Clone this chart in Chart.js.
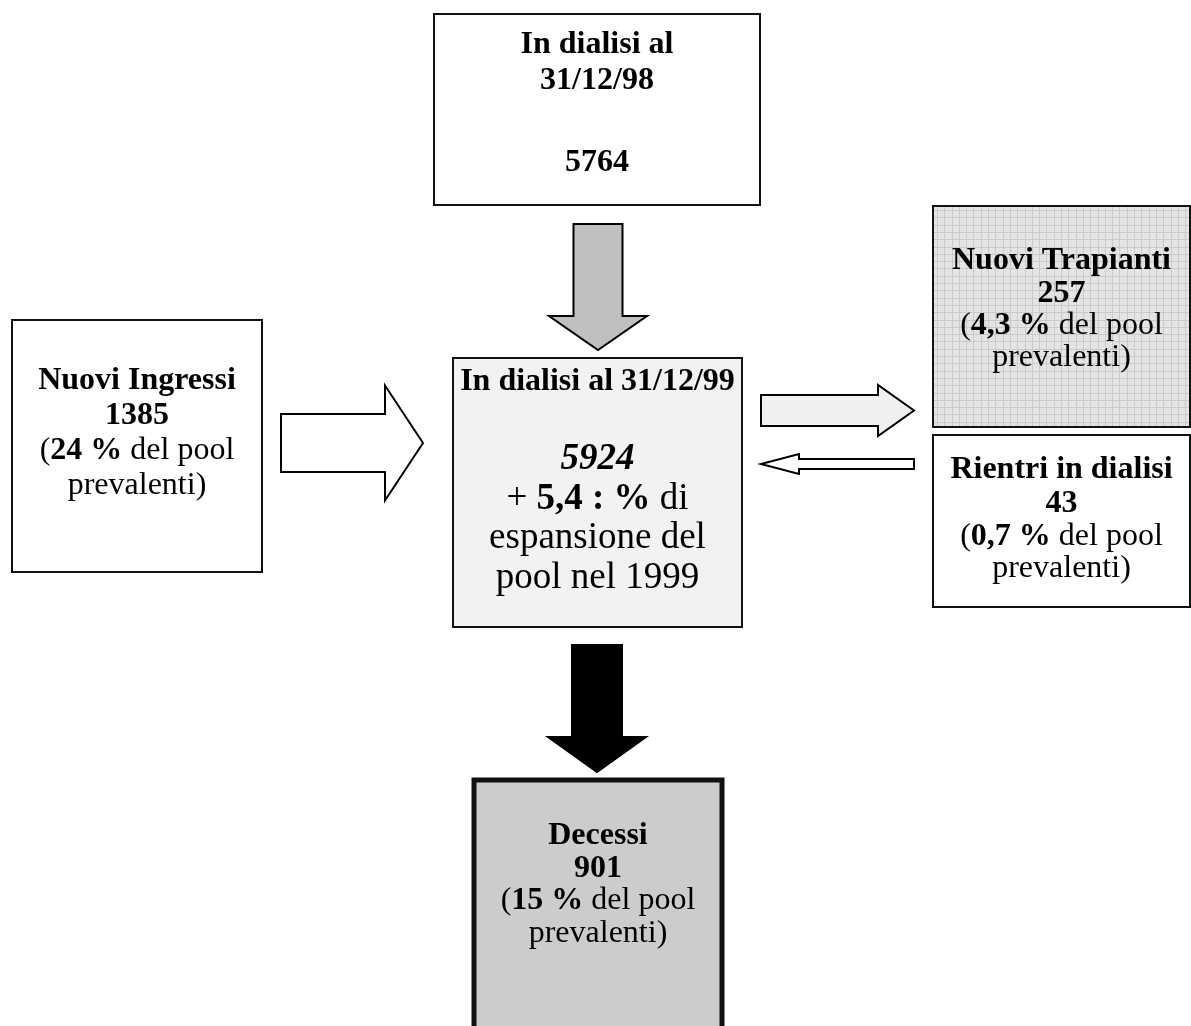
<!DOCTYPE html>
<html>
<head>
<meta charset="utf-8">
<script src="https://cdn.jsdelivr.net/npm/chart.js@4.4.1/dist/chart.umd.min.js"></script>
<style>
  html, body { margin: 0; padding: 0; background: #fff; overflow: hidden; }
  canvas { display: block; }
</style>
</head>
<body>
<canvas id="flowChart" width="1191" height="1026"></canvas>
<script>
// dati del pool dialitico 1998-1999
const boxTitles = [['In dialisi al', '31/12/98'], ['In dialisi al 31/12/99'], ['Nuovi Ingressi'], ['Nuovi Trapianti'], ['Rientri in dialisi'], ['Decessi']];
const boxCounts = [5764, 5924, 1385, 257, 43, 901];
const poolShares = ['', '5,4 :', '24', '4,3', '0,7', '15'];
const poolNote = ['del pool', 'prevalenti)'];
const growthNote = ['di', 'espansione del', 'pool nel 1999'];

// layout in unità del diagramma (assi 0..1191 x 0..1026)
const boxLayout = [
    { x0: 434, x1: 760, y0: 14, y1: 205, fill: '#ffffff', lw: 2, lines: [53, 89, 171] },
    { x0: 453, x1: 742, y0: 358, y1: 627, fill: '#f2f2f2', lw: 2, lines: [390, 469, 509, 548, 588] },
    { x0: 12, x1: 262, y0: 320, y1: 572, fill: '#ffffff', lw: 2, lines: [389, 424, 459, 494] },
    { x0: 933, x1: 1190, y0: 206, y1: 427, fill: 'grid', lw: 2, lines: [269, 302, 334, 366] },
    { x0: 933, x1: 1190, y0: 435, y1: 607, fill: '#ffffff', lw: 2, lines: [478, 512, 545, 577] },
    { x0: 474, x1: 722, y0: 780, y1: 1060, fill: '#cccccc', lw: 5, lines: [844, 877, 909, 942] }
];

const arrowLayout = [
    { dir: 'down', c: 598, half: 24.5, head: 49, from: 224, neck: 316, tip: 350, fill: '#c0c0c0' },
    { dir: 'right', c: 443, half: 29, head: 57.5, from: 281, neck: 385, tip: 423, fill: '#ffffff' },
    { dir: 'right', c: 410.5, half: 15.5, head: 25.5, from: 761, neck: 878, tip: 914, fill: '#f0f0f0' },
    { dir: 'left', c: 464, half: 5, head: 10, from: 914, neck: 799, tip: 761, fill: '#ffffff' },
    { dir: 'down', c: 597, half: 25, head: 49, from: 645, neck: 737, tip: 772, fill: '#000000' }
];

const serif = '"Liberation Serif", "Times New Roman", serif';

function arrowPoints(a) {
    const p = [
        [a.from, a.c - a.half], [a.neck, a.c - a.half], [a.neck, a.c - a.head],
        [a.tip, a.c], [a.neck, a.c + a.head], [a.neck, a.c + a.half], [a.from, a.c + a.half]
    ];
    // per le frecce verticali si scambiano gli assi
    return a.dir === 'down' ? p.map(([s, t]) => [t, s]) : p;
}

function drawRuns(ctx, runs, cx, baseline) {
    let total = 0;
    runs.forEach(r => { ctx.font = r.font; total += ctx.measureText(r.text).width; });
    let xPos = cx - total / 2;
    ctx.textAlign = 'left';
    ctx.textBaseline = 'alphabetic';
    ctx.fillStyle = '#000';
    runs.forEach(r => {
        ctx.font = r.font;
        ctx.fillText(r.text, xPos, baseline);
        xPos += ctx.measureText(r.text).width;
    });
}

function boxLines(i) {
    const B = 'bold 32px ' + serif, N = '32px ' + serif;
    if (i === 0) {
        return [[{ text: boxTitles[0][0], font: B }], [{ text: boxTitles[0][1], font: B }], [{ text: String(boxCounts[0]), font: B }]];
    }
    if (i === 1) {
        const N37 = '37px ' + serif, B37 = 'bold 37px ' + serif;
        return [
            [{ text: boxTitles[1][0], font: B }],
            [{ text: String(boxCounts[1]), font: 'italic bold 37px ' + serif }],
            [{ text: '+ ', font: N37 }, { text: poolShares[1] + ' %', font: B37 }, { text: ' ' + growthNote[0], font: N37 }],
            [{ text: growthNote[1], font: N37 }],
            [{ text: growthNote[2], font: N37 }]
        ];
    }
    return [
        [{ text: boxTitles[i][0], font: B }],
        [{ text: String(boxCounts[i]), font: B }],
        [{ text: '(', font: N }, { text: poolShares[i] + ' %', font: B }, { text: ' ' + poolNote[0], font: N }],
        [{ text: poolNote[1], font: N }]
    ];
}

const flowPlugin = {
    id: 'flowDiagram',
    afterDatasetsDraw(chart) {
        const { ctx, scales: { x, y } } = chart;
        const px = v => x.getPixelForValue(v);
        const py = v => y.getPixelForValue(v);
        ctx.save();

        // frecce
        arrowLayout.forEach(a => {
            const pts = arrowPoints(a);
            ctx.beginPath();
            pts.forEach(([vx, vy], k) => k ? ctx.lineTo(px(vx), py(vy)) : ctx.moveTo(px(vx), py(vy)));
            ctx.closePath();
            ctx.fillStyle = a.fill;
            ctx.fill();
            ctx.lineWidth = 2;
            ctx.lineJoin = 'miter';
            ctx.strokeStyle = '#000';
            ctx.stroke();
        });

        // riquadri
        boxLayout.forEach((b, i) => {
            const l = px(b.x0), t = py(b.y0), w = px(b.x1) - l, h = py(b.y1) - t;
            if (b.fill === 'grid') {
                ctx.fillStyle = '#e4e4e4';
                ctx.fillRect(l, t, w, h);
                ctx.strokeStyle = '#cacaca';
                ctx.lineWidth = 1;
                ctx.beginPath();
                for (let gx = l + 4; gx < l + w; gx += 7.3) { ctx.moveTo(Math.round(gx) + 0.5, t); ctx.lineTo(Math.round(gx) + 0.5, t + h); }
                for (let gy = t + 4; gy < t + h; gy += 7.3) { ctx.moveTo(l, Math.round(gy) + 0.5); ctx.lineTo(l + w, Math.round(gy) + 0.5); }
                ctx.stroke();
            } else {
                ctx.fillStyle = b.fill;
                ctx.fillRect(l, t, w, h);
            }
            ctx.lineWidth = b.lw;
            ctx.strokeStyle = '#111';
            ctx.strokeRect(l, t, w, h);

            const cx = px((b.x0 + b.x1) / 2);
            boxLines(i).forEach((runs, k) => drawRuns(ctx, runs, cx, py(b.lines[k])));
        });

        ctx.restore();
    }
};

new Chart(document.getElementById('flowChart'), {
    type: 'scatter',
    data: { datasets: [{ data: [], pointRadius: 0 }] },
    options: {
        responsive: false,
        animation: false,
        devicePixelRatio: 1,
        layout: { padding: 0 },
        plugins: { legend: { display: false }, tooltip: { enabled: false } },
        scales: {
            x: { type: 'linear', min: 0, max: 1191, display: false },
            y: { type: 'linear', min: 0, max: 1026, reverse: true, display: false }
        }
    },
    plugins: [flowPlugin]
});
</script>
</body>
</html>
